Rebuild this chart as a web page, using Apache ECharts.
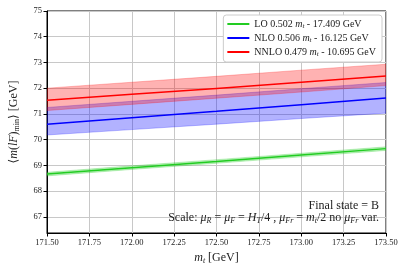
<!DOCTYPE html>
<html><head><meta charset="utf-8">
<script src="https://cdn.jsdelivr.net/npm/echarts@6/dist/echarts.min.js"></script>
<style>html,body{margin:0;padding:0;background:#fff}#c{width:407px;height:271px}</style>
</head><body><div id="c"></div>
<script>
const mt = [171.5, 172.0, 172.5, 173.0, 173.5];
const xTicks = [171.5, 171.75, 172.0, 172.25, 172.5, 172.75, 173.0, 173.25, 173.5];
const yTicks = [67, 68, 69, 70, 71, 72, 73, 74, 75];
const lo = [68.66, 68.91, 69.15, 69.40, 69.65];
const loUp = [68.73, 68.98, 69.22, 69.47, 69.72];
const loDn = [68.59, 68.84, 69.08, 69.33, 69.58];
const nlo = [70.60, 70.85, 71.10, 71.36, 71.62];
const nloUp = [71.25, 71.49, 71.73, 71.98, 72.22];
const nloDn = [70.18, 70.39, 70.60, 70.82, 71.03];
const nnlo = [71.53, 71.76, 71.99, 72.23, 72.47];
const nnloUp = [72.00, 72.23, 72.46, 72.70, 72.93];
const nnloDn = [71.13, 71.37, 71.61, 71.85, 72.10];
const names = ['LO', 'NLO', 'NNLO'];
const fits = [['0.502', '17.409'], ['0.506', '16.125'], ['0.479', '10.695']];

const F = 'Liberation Serif, DejaVu Serif, serif';
const chart = echarts.init(document.getElementById('c'));
function pairs(a){ return mt.map((x,i)=>[x,a[i]]); }
function band(id, up, dn, color){
  return {type:'custom', name:id, silent:true, z:1, clip:true,
    data: mt.map((x,i)=>[x, dn[i], up[i]]),
    encode:{x:0, y:[1,2]},
    renderItem:function(params, api){
      if (params.dataIndex !== 0) return null;
      const pts = [];
      for (let i=0;i<mt.length;i++) pts.push(api.coord([mt[i], up[i]]));
      for (let i=mt.length-1;i>=0;i--) pts.push(api.coord([mt[i], dn[i]]));
      return {type:'polygon', shape:{points:pts},
        style:{fill:color, opacity:1, stroke:color, lineWidth:0.8}};
    }};
}
const cols = ['#22cc22', '#0000ff', '#ff0000'];
const bandCols = ['rgba(34,204,34,0.3)', 'rgba(0,0,255,0.3)', 'rgba(255,0,0,0.3)'];
const series = [
  band('g', loUp, loDn, bandCols[0]),
  band('b', nloUp, nloDn, bandCols[1]),
  band('r', nnloUp, nnloDn, bandCols[2]),
  {type:'line', name:'LO', data:pairs(lo), symbol:'none', lineStyle:{width:1.5, color:cols[0]}, itemStyle:{color:cols[0]}, z:3},
  {type:'line', name:'NLO', data:pairs(nlo), symbol:'none', lineStyle:{width:1.5, color:cols[1]}, itemStyle:{color:cols[1]}, z:3},
  {type:'line', name:'NNLO', data:pairs(nnlo), symbol:'none', lineStyle:{width:1.5, color:cols[2]}, itemStyle:{color:cols[2]}, z:3}
];
const rich = {
  n:{fontFamily:F, fontSize:10, color:'#222'},
  i:{fontFamily:F, fontSize:10, fontStyle:'italic', color:'#222'},
  s:{fontFamily:F, fontSize:7, fontStyle:'italic', color:'#222', padding:[5,0,0,0]}
};
chart.setOption({
  animation:false,
  grid:{left:45, right:21, top:11, bottom:38, show:true, borderColor:'#000', borderWidth:1, backgroundColor:'transparent'},
  legend:{
    data:names, orient:'vertical', right:25, top:15, itemWidth:22, itemHeight:2, icon:'rect', itemGap:3,
    backgroundColor:'#fff', borderColor:'#ccc', borderWidth:1, borderRadius:3, padding:[4,6,4,4],
    textStyle:{rich:rich, fontFamily:F, fontSize:10},
    formatter:function(n){ const k = names.indexOf(n); return '{n|'+n+' '+fits[k][0]+' }{i|m}{s|t}{n| - '+fits[k][1]+' GeV}'; }
  },
  xAxis:{type:'value', min:171.5, max:173.5, interval:0.25,
    name:'{i|m}{s|t}{n| [GeV]}', nameLocation:'middle', nameGap:17,
    nameTextStyle:{rich:{n:{fontFamily:F,fontSize:12,color:'#222'},i:{fontFamily:F,fontSize:12,fontStyle:'italic',color:'#222'},s:{fontFamily:F,fontSize:8,fontStyle:'italic',color:'#222',padding:[6,0,0,0]}}},
    axisLine:{lineStyle:{color:'#000', width:1}}, axisTick:{length:3.5, lineStyle:{color:'#000'}},
    axisLabel:{fontFamily:F, fontSize:8.5, color:'#222', margin:5, formatter:v=>v.toFixed(2)},
    splitLine:{show:true, lineStyle:{color:'#c8c8c8', width:1}}},
  yAxis:{type:'value', min:66.37, max:75,
    name:'{n|⟨}{i|m}{n|(}{i|lF}{n|)}{s|min}{n|⟩ [GeV]}', nameLocation:'middle', nameGap:26, nameRotate:90,
    nameTextStyle:{rich:{n:{fontFamily:F,fontSize:12,color:'#222'},i:{fontFamily:F,fontSize:12,fontStyle:'italic',color:'#222'},s:{fontFamily:F,fontSize:8,color:'#222',padding:[6,0,0,0]}}},
    axisLine:{lineStyle:{color:'#000', width:1}},
    axisTick:{length:3.5, lineStyle:{color:'#000'}, customValues:yTicks},
    axisLabel:{fontFamily:F, fontSize:8.5, color:'#222', margin:5, customValues:yTicks, formatter:v=>String(Math.round(v))},
    splitLine:{show:true, lineStyle:{color:'#c8c8c8', width:1}}},
  graphic:[
    {type:'text', right:28, top:200, z:10, style:{text:'Final state = B', font:'12px '+F, fill:'#222'}},
    {type:'text', right:28, top:212, z:10, style:{
      text:'{n|Scale: }{i|μ}{s|R}{n| = }{i|μ}{s|F}{n| = }{i|H}{s|T}{n|/4 , }{i|μ}{s|Fr}{n| = }{i|m}{s|t}{n|/2 no }{i|μ}{s|Fr}{n| var.}',
      rich:{n:{fontFamily:F,fontSize:12,fill:'#222'},i:{fontFamily:F,fontSize:12,fontStyle:'italic',fill:'#222'},s:{fontFamily:F,fontSize:8,fontStyle:'italic',fill:'#222',padding:[6,0,0,0]}}}}
  ],
  series:series
});
</script></body></html>
